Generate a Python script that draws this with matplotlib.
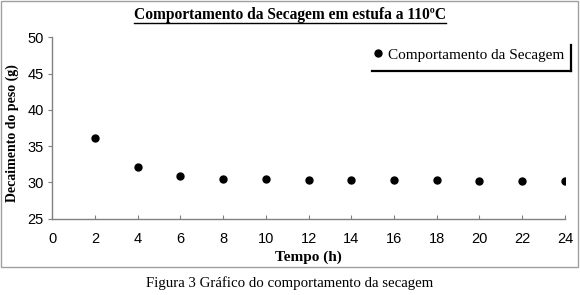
import matplotlib
matplotlib.use('Agg')
import matplotlib.pyplot as plt
from matplotlib.lines import Line2D
from matplotlib.patches import Rectangle

# -----------------------------
# Data
# -----------------------------
tempo_h = [2, 4, 6, 8, 10, 12, 14, 16, 18, 20, 22, 24]
peso_g = [36.1, 32.1, 30.9, 30.5, 30.5, 30.3, 30.3, 30.3, 30.3, 30.2, 30.2, 30.2]
x_ticks = list(range(0, 25, 2))
y_ticks = [25, 30, 35, 40, 45, 50]

serif = 'Liberation Serif'
sans = 'Liberation Sans'

# -----------------------------
# Figure
# -----------------------------
fig = plt.figure(figsize=(5.8, 2.95), dpi=100)
ax = fig.add_axes([0.090, 0.259, 0.884, 0.614])

ax.plot(tempo_h, peso_g, 'o', color='black', ms=5, label='Comportamento da Secagem')

ax.set_xlim(0, 24)
ax.set_ylim(25, 50)
ax.set_xticks(x_ticks)
ax.set_yticks(y_ticks)

for s in ['top', 'right']:
    ax.spines[s].set_visible(False)
for s in ['left', 'bottom']:
    ax.spines[s].set_color('#808080')
    ax.spines[s].set_linewidth(1.0)

ax.tick_params(axis='x', direction='in', length=3, color='#808080', pad=10)
ax.tick_params(axis='y', direction='out', length=3, color='#808080', pad=3)
for lbl in ax.get_xticklabels() + ax.get_yticklabels():
    lbl.set_fontfamily(sans)
    lbl.set_fontsize(10.5)

ax.set_xlabel('Tempo (h)', fontfamily=serif, fontweight='bold', fontsize=11, labelpad=3)
ax.set_ylabel('Decaimento do peso (g)', fontfamily=serif, fontweight='bold', fontsize=10)
ax.yaxis.set_label_coords(-0.064, 0.47)

# title (underlined)
title = fig.text(0.5, 0.949, 'Comportamento da Secagem em estufa a 110ºC', ha='center', va='center',
                 fontfamily=serif, fontweight='bold', fontsize=11.2)
fig.canvas.draw()
bb = title.get_window_extent().transformed(fig.transFigure.inverted())
fig.add_artist(Line2D([bb.x0, bb.x1], [0.922, 0.922], color='black', lw=1.0))

# legend with shadow lines at bottom/right
leg = ax.legend(loc='center left', bbox_to_anchor=(0.626, 0.814), bbox_transform=fig.transFigure,
                frameon=False, handletextpad=0.1, borderpad=0, handlelength=1.0,
                prop={'family': serif, 'size': 11})
fig.add_artist(Line2D([0.641, 0.984], [0.759, 0.759], color='black', lw=1.6))
fig.add_artist(Line2D([0.984, 0.984], [0.759, 0.848], color='black', lw=1.6))

# chart border
fig.add_artist(Rectangle((0.002, 0.094), 0.995, 0.903, transform=fig.transFigure,
                         fill=False, edgecolor='#a0a0a0', lw=1.0))

# caption
fig.text(0.5, 0.040, 'Figura 3 Gráfico do comportamento da secagem', ha='center', va='center',
         fontfamily=serif, fontsize=10.7)

plt.savefig('out.png', dpi=100)
